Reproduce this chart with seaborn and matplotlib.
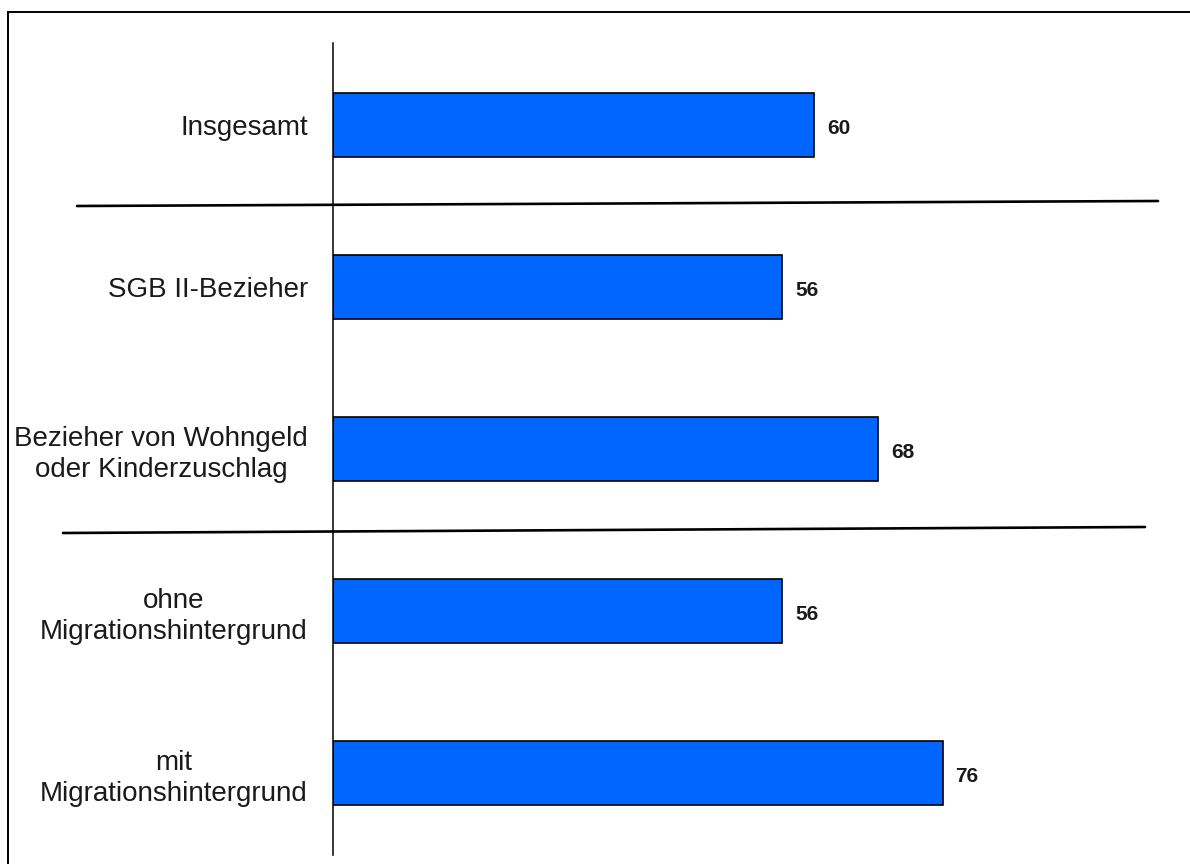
import pandas as pd
import seaborn as sns
import matplotlib.pyplot as plt
from matplotlib.lines import Line2D
from matplotlib.patches import Rectangle

# data
categories = [
    "Insgesamt",
    "SGB II-Bezieher",
    "Bezieher von Wohngeld\noder Kinderzuschlag",
    "ohne\nMigrationshintergrund",
    "mit\nMigrationshintergrund",
]
values = [60, 56, 68, 56, 76]

sns.set_style("white")
plt.rcParams['font.family'] = ['Liberation Sans', 'DejaVu Sans']

W, H = 1190, 864
my_dpi = 100
fig = plt.figure(figsize=(W / my_dpi, H / my_dpi), dpi=my_dpi)
ax = fig.add_axes([333 / W, 1 - 855 / H, (1135 - 333) / W, (855 - 43) / H])

df = pd.DataFrame({'Gruppe': categories, 'Wert': values})
sns.barplot(data=df, x='Wert', y='Gruppe', orient='h', color='#0066FF',
            saturation=1, width=0.4, edgecolor='black', linewidth=1.2, ax=ax)

ax.set_xlim(0, 100)
ax.set_ylim(len(categories) - 0.494, -0.506)
ax.set_xlabel("")
ax.set_ylabel("")
ax.set_xticks([])
for side in ['top', 'right', 'bottom']:
    ax.spines[side].set_visible(False)
ax.spines['left'].set_color('black')
ax.spines['left'].set_linewidth(1.1)
ax.tick_params(axis='y', length=0, pad=18)
for lbl in ax.get_yticklabels():
    lbl.set_fontsize(20)
    lbl.set_multialignment('center')
    lbl.set_linespacing(1.25)
    lbl.set_color('#1a1a1a')

# value labels
for i, v in enumerate(values):
    ax.text(v + 1.6, i + 0.02, str(v), va='center', ha='left', fontsize=15,
            fontweight='bold', color='#1a1a1a')

# separator lines between groups
fig.add_artist(Line2D([77 / W, 1158 / W], [1 - 206 / H, 1 - 201 / H],
                      color='black', linewidth=1.9))
fig.add_artist(Line2D([63 / W, 1145 / W], [1 - 533 / H, 1 - 527 / H],
                      color='black', linewidth=1.9))

# outer frame (top and left visible)
fig.add_artist(Rectangle((8 / W, -0.1), 1.2, 1.1 - 12 / H, fill=False,
                         edgecolor='black', linewidth=1.4,
                         transform=fig.transFigure))

plt.savefig('out.png', dpi=my_dpi)
